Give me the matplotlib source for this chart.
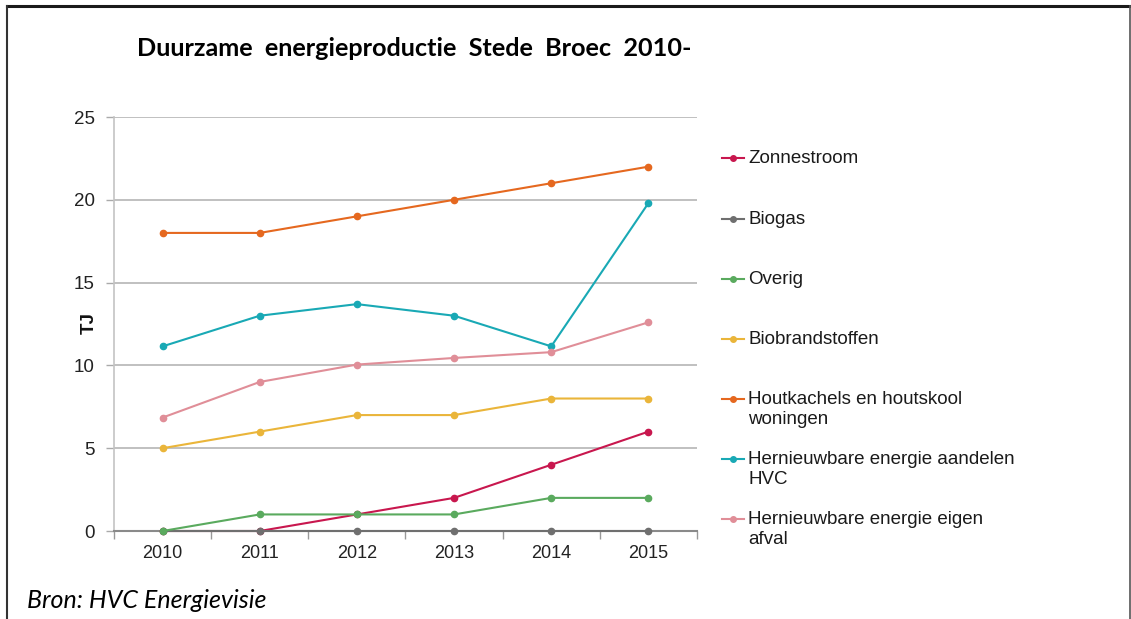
import matplotlib
matplotlib.use("Agg")
import matplotlib.pyplot as plt
from matplotlib.lines import Line2D

years = ["2010", "2011", "2012", "2013", "2014", "2015"]
zonnestroom = [0, 0, 1, 2, 4, 6]
biogas = [0, 0, 0, 0, 0, 0]
overig = [0, 1, 1, 1, 2, 2]
biobrandstoffen = [5, 6, 7, 7, 8, 8]
houtkachels = [18, 18, 19, 20, 21, 22]
hvc_aandelen = [11.15, 13.0, 13.7, 13.0, 11.15, 19.8]
eigen_afval = [6.85, 9.0, 10.05, 10.45, 10.8, 12.6]

labels = ["Zonnestroom", "Biogas", "Overig", "Biobrandstoffen",
          "Houtkachels en houtskool\nwoningen",
          "Hernieuwbare energie aandelen\nHVC",
          "Hernieuwbare energie eigen\nafval"]
series = [zonnestroom, biogas, overig, biobrandstoffen, houtkachels, hvc_aandelen, eigen_afval]
colors = ["#c8174e", "#6f6f6f", "#5aaa5e", "#eab53a", "#e5681f", "#19a9b5", "#e08e98"]

W, H = 1131, 619
fig = plt.figure(figsize=(W / 100, H / 100), dpi=100)
fig.patch.set_facecolor("white")

# frame around image
fig.add_artist(Line2D([7 / W, 1129.5 / W], [1 - 5.5 / H, 1 - 5.5 / H], color="#1a1a1a", lw=2.2, transform=fig.transFigure))
fig.add_artist(Line2D([7 / W, 7 / W], [0, 1 - 5.5 / H], color="#333333", lw=1.5, transform=fig.transFigure))
fig.add_artist(Line2D([1129.5 / W, 1129.5 / W], [0, 1 - 5.5 / H], color="#555555", lw=1.2, transform=fig.transFigure))

left, right, top, bottom = 114, 697, 117, 531
ax = fig.add_axes([left / W, 1 - bottom / H, (right - left) / W, (bottom - top) / H])

x = list(range(len(years)))
order = [1, 2, 0, 3, 6, 5, 4]
for i in order:
    ax.plot(x, series[i], color=colors[i], lw=1.5, marker="o", ms=4.5, zorder=3 + i * 0.1,
            clip_on=False)

ax.set_xlim(-0.5, len(years) - 0.5)
ax.set_ylim(0, 25)
ax.set_yticks([0, 5, 10, 15, 20, 25])
ax.set_xticks(x)
ax.set_xticklabels(years)
ax.set_xticks([i + 0.5 for i in range(-1, len(years))], minor=True)
ax.tick_params(axis="x", which="major", length=0, pad=10, labelsize=13, labelcolor="#222222")
ax.tick_params(axis="x", which="minor", length=6, width=1, color="#999999", direction="out")
ax.tick_params(axis="y", length=6, width=1, color="#aaaaaa", pad=8, labelsize=13.5, labelcolor="#222222")
for lab in ax.get_xticklabels() + ax.get_yticklabels():
    lab.set_fontfamily("Liberation Sans")
ax.yaxis.grid(True, color="#b5b5b5", lw=1.2)
ax.set_axisbelow(True)
for s in ["top", "right"]:
    ax.spines[s].set_visible(False)
ax.spines["left"].set_color("#c4c4c4")
ax.spines["left"].set_linewidth(1.2)
ax.spines["bottom"].set_color("#8a8a8a")
ax.spines["bottom"].set_linewidth(1.5)

fig.text(89 / W, 1 - 323 / H, "TJ", fontfamily="Liberation Sans", fontweight="bold", fontsize=13.5,
         rotation=90, ha="center", va="center", color="#111111")

# title
fig.text(137 / W, 1 - 49 / H, "Duurzame  energieproductie  Stede  Broec  2010-", fontfamily="Lato",
         fontweight="bold", fontsize=18.2, ha="left", va="center", color="black")

# legend drawn manually
rows = [158, 219, 279, 339, 399, 459, 519]
for i, (lab, yy) in enumerate(zip(labels, rows)):
    yf = 1 - yy / H
    fig.add_artist(Line2D([722 / W, 744 / W], [yf, yf], color=colors[i], lw=1.5, transform=fig.transFigure))
    fig.add_artist(Line2D([733 / W], [yf], color=colors[i], marker="o", ms=4, lw=0, transform=fig.transFigure))
    fig.text(748 / W, yf + 8 / H, lab, fontfamily="Liberation Sans", fontsize=13.5, ha="left", va="top",
             color="#1a1a1a", linespacing=1.22)

# source
fig.text(27 / W, 1 - 601 / H, "Bron: HVC Energievisie", fontfamily="Lato", fontstyle="italic",
         fontsize=18, ha="left", va="center", color="black")

fig.savefig("out.png", dpi=100)
